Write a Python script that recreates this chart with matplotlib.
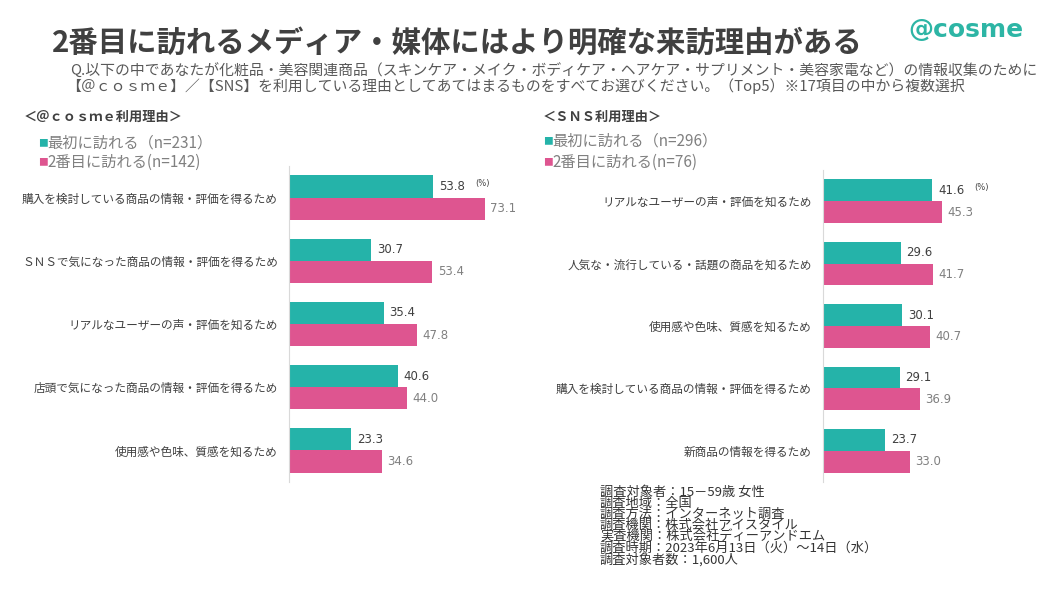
import matplotlib.pyplot as plt

plt.rcParams["font.family"] = ["Noto Sans CJK JP", "DejaVu Sans"]

# --- data ---
cosme_reasons = [
    "購入を検討している商品の情報・評価を得るため",
    "ＳＮＳで気になった商品の情報・評価を得るため",
    "リアルなユーザーの声・評価を知るため",
    "店頭で気になった商品の情報・評価を得るため",
    "使用感や色味、質感を知るため",
]
cosme_first = [53.8, 30.7, 35.4, 40.6, 23.3]
cosme_second = [73.1, 53.4, 47.8, 44.0, 34.6]

sns_reasons = [
    "リアルなユーザーの声・評価を知るため",
    "人気な・流行している・話題の商品を知るため",
    "使用感や色味、質感を知るため",
    "購入を検討している商品の情報・評価を得るため",
    "新商品の情報を得るため",
]
sns_first = [41.6, 29.6, 30.1, 29.1, 23.7]
sns_second = [45.3, 41.7, 40.7, 36.9, 33.0]

cosme_legend = ["最初に訪れる（n=231）", "2番目に訪れる(n=142)"]
sns_legend = ["最初に訪れる（n=296）", "2番目に訪れる(n=76)"]

notes = [
    "調査対象者：15－59歳 女性",
    "調査地域：全国",
    "調査方法：インターネット調査",
    "調査機関：株式会社アイスタイル",
    "実査機関：株式会社ディーアンドエム",
    "調査時期：2023年6月13日（火）～14日（水）",
    "調査対象者数：1,600人",
]

TEAL = "#25B3A9"
PINK = "#DE5590"
W, H = 1051, 591


def px_axes(fig, left, top, width, height):
    return fig.add_axes([left / W, 1 - (top + height) / H, width / W, height / H])


def draw_panel(ax, labels, first, second):
    n = len(labels)
    ys = list(range(n))
    h = 0.35
    ax.barh([y - h / 2 for y in ys], first, height=h, color=TEAL)
    ax.barh([y + h / 2 for y in ys], second, height=h, color=PINK)
    for y, v in zip(ys, first):
        ax.annotate(f"{v:.1f}", (v, y - h / 2), xytext=(4, 0), textcoords="offset points",
                    va="center", ha="left", fontsize=8.5, color="#404040", family="DejaVu Sans")
    for y, v in zip(ys, second):
        ax.annotate(f"{v:.1f}", (v, y + h / 2), xytext=(4, 0), textcoords="offset points",
                    va="center", ha="left", fontsize=8.5, color="#808080", family="DejaVu Sans")
    # unit marker next to the first label
    ax.annotate("(%)", (first[0], -h / 2), xytext=(30, 2), textcoords="offset points",
                va="center", ha="left", fontsize=6, color="#404040", family="DejaVu Sans")
    ax.set_xlim(0, 100)
    ax.set_ylim(n - 0.5, -0.5)
    ax.set_yticks(ys)
    ax.set_yticklabels(labels, fontsize=8.4, color="#404040")
    ax.tick_params(axis="y", length=0, pad=8)
    ax.set_xticks([])
    for s in ["top", "right", "bottom"]:
        ax.spines[s].set_visible(False)
    ax.spines["left"].set_color("#d9d9d9")
    ax.patch.set_alpha(0)


fig = plt.figure(figsize=(W / 100, H / 100), dpi=100)

ax1 = px_axes(fig, 289, 166, 268, 316)
draw_panel(ax1, cosme_reasons, cosme_first, cosme_second)
ax2 = px_axes(fig, 823, 170, 263, 312)
draw_panel(ax2, sns_reasons, sns_first, sns_second)


def ftext(x, y, s, **kw):
    return fig.text(x / W, 1 - y / H, s, **kw)


ftext(52, 43, "2番目に訪れるメディア・媒体にはより明確な来訪理由がある",
      fontsize=21.2, fontweight="bold", color="#404040", va="center")
ftext(966, 30, "@cosme", fontsize=18, fontweight="bold", color="#2DB5A5",
      va="center", ha="center", family="DejaVu Sans")
ftext(70, 71, "Q.以下の中であなたが化粧品・美容関連商品（スキンケア・メイク・ボディケア・ヘアケア・サプリメント・美容家電など）の情報収集のために",
      fontsize=10.7, color="#595959", va="center")
ftext(66, 86, "【＠ｃｏｓｍｅ】／【SNS】を利用している理由としてあてはまるものをすべてお選びください。（Top5）※17項目の中から複数選択",
      fontsize=10.7, color="#595959", va="center")

ftext(24, 117, "＜＠ｃｏｓｍｅ利用理由＞", fontsize=9.5, fontweight="bold", color="#404040", va="center")
ftext(543, 117, "＜ＳＮＳ利用理由＞", fontsize=9.5, fontweight="bold", color="#404040", va="center")

for (x0, y0, dy), leg in [((38, 143, 19), cosme_legend), ((543, 141, 21), sns_legend)]:
    for i, (txt, c) in enumerate(zip(leg, [TEAL, PINK])):
        ftext(x0, y0 + i * dy, "■", fontsize=7, color=c, va="center")
        ftext(x0 + 9, y0 + i * dy, txt, fontsize=11, color="#808080", va="center")

for i, line in enumerate(notes):
    ftext(600, 492 + i * 11.3, line, fontsize=9.5, color="#333333", va="center")

fig.savefig("out.png", dpi=100)
